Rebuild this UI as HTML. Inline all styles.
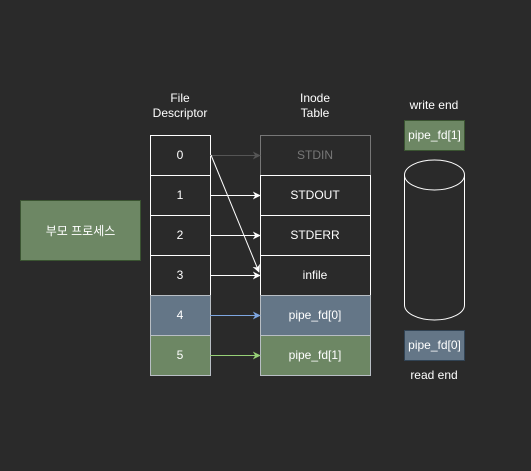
<!DOCTYPE html>
<html><head><meta charset="utf-8"><style>
html,body{margin:0;padding:0;background:#2a2a2a;}
svg{display:block;font-family:"Liberation Sans","Noto Sans CJK KR",sans-serif;}
</style></head><body>
<svg width="531" height="471" viewBox="0 0 531 471">
<defs>
<marker id="aw" viewBox="0 0 10 10" refX="9" refY="5" markerWidth="8" markerHeight="8" orient="auto" markerUnits="userSpaceOnUse"><path d="M0,0L10,5L0,10L3,5z" fill="#ffffff"/></marker>
<marker id="ag" viewBox="0 0 10 10" refX="9" refY="5" markerWidth="8" markerHeight="8" orient="auto" markerUnits="userSpaceOnUse"><path d="M0,0L10,5L0,10L3,5z" fill="#555555"/></marker>
<marker id="ab" viewBox="0 0 10 10" refX="9" refY="5" markerWidth="8" markerHeight="8" orient="auto" markerUnits="userSpaceOnUse"><path d="M0,0L10,5L0,10L3,5z" fill="#7ea6e0"/></marker>
<marker id="agr" viewBox="0 0 10 10" refX="9" refY="5" markerWidth="8" markerHeight="8" orient="auto" markerUnits="userSpaceOnUse"><path d="M0,0L10,5L0,10L3,5z" fill="#97d077"/></marker>
</defs>
<rect width="531" height="471" fill="#2a2a2a"/>

<g>
<rect x="20.5" y="200.5" width="120" height="60" fill="#6d8764" stroke="#3a5431"/>
<text x="80.5" y="235" font-size="12" fill="#fff" text-anchor="middle">부모 프로세스</text>
</g>

<text x="180" y="102" font-size="12" fill="#fff" text-anchor="middle">File</text>
<text x="180" y="117" font-size="12" fill="#fff" text-anchor="middle">Descriptor</text>
<text x="315" y="102" font-size="12" fill="#fff" text-anchor="middle">Inode</text>
<text x="315" y="117" font-size="12" fill="#fff" text-anchor="middle">Table</text>

<g>
<rect x="150.5" y="135.5" width="60" height="40" fill="#2a2a2a" stroke="#fff"/>
<rect x="150.5" y="175.5" width="60" height="40" fill="#2a2a2a" stroke="#fff"/>
<rect x="150.5" y="215.5" width="60" height="40" fill="#2a2a2a" stroke="#fff"/>
<rect x="150.5" y="255.5" width="60" height="40" fill="#2a2a2a" stroke="#fff"/>
<rect x="150.5" y="295.5" width="60" height="40" fill="#647687" stroke="#b8bec4"/>
<rect x="150.5" y="335.5" width="60" height="40" fill="#6d8764" stroke="#b8bec4"/>
<g font-size="12" fill="#fff" text-anchor="middle">
<text x="180" y="159">0</text><text x="180" y="199">1</text><text x="180" y="239">2</text>
<text x="180" y="279">3</text><text x="180" y="319">4</text><text x="180" y="359">5</text>
</g></g>

<g>
<rect x="260.5" y="135.5" width="110" height="40" fill="#2a2a2a" stroke="#777"/>
<rect x="260.5" y="175.5" width="110" height="40" fill="#2a2a2a" stroke="#fff"/>
<rect x="260.5" y="215.5" width="110" height="40" fill="#2a2a2a" stroke="#fff"/>
<rect x="260.5" y="255.5" width="110" height="40" fill="#2a2a2a" stroke="#fff"/>
<rect x="260.5" y="295.5" width="110" height="40" fill="#647687" stroke="#b8bec4"/>
<rect x="260.5" y="335.5" width="110" height="40" fill="#6d8764" stroke="#b8bec4"/>
<g font-size="12" text-anchor="middle">
<text x="315" y="159" fill="#777">STDIN</text>
<text x="315" y="199" fill="#fff">STDOUT</text>
<text x="315" y="239" fill="#fff">STDERR</text>
<text x="315" y="279" fill="#fff">infile</text>
<text x="315" y="319" fill="#fff">pipe_fd[0]</text>
<text x="315" y="359" fill="#fff">pipe_fd[1]</text>
</g></g>

<g fill="none">
<line x1="210" y1="155.5" x2="260" y2="155.5" stroke="#555" marker-end="url(#ag)"/>
<line x1="210" y1="195.5" x2="260" y2="195.5" stroke="#fff" marker-end="url(#aw)"/>
<line x1="210" y1="235.5" x2="260" y2="235.5" stroke="#fff" marker-end="url(#aw)"/>
<line x1="210" y1="275.5" x2="260" y2="275.5" stroke="#fff" marker-end="url(#aw)"/>
<line x1="211" y1="155" x2="259" y2="272" stroke="#fff" marker-end="url(#aw)"/>
<line x1="210" y1="315.5" x2="260" y2="315.5" stroke="#7ea6e0" marker-end="url(#ab)"/>
<line x1="210" y1="355.5" x2="260" y2="355.5" stroke="#97d077" marker-end="url(#agr)"/>
</g>

<g>
<text x="434" y="109" font-size="12" fill="#fff" text-anchor="middle">write end</text>
<rect x="404.5" y="120.5" width="60" height="30" fill="#6d8764" stroke="#3a5431"/>
<text x="434.5" y="139" font-size="12" fill="#fff" text-anchor="middle">pipe_fd[1]</text>
<path d="M404.5,175 L404.5,305 A30,15 0 0 0 464.5,305 L464.5,175" fill="none" stroke="#fff"/>
<ellipse cx="434.5" cy="175" rx="30" ry="15" fill="none" stroke="#fff"/>
<rect x="404.5" y="330.5" width="60" height="30" fill="#647687" stroke="#314354"/>
<text x="434.5" y="349" font-size="12" fill="#fff" text-anchor="middle">pipe_fd[0]</text>
<text x="434" y="379" font-size="12" fill="#fff" text-anchor="middle">read end</text>
</g>
</svg>
</body></html>
